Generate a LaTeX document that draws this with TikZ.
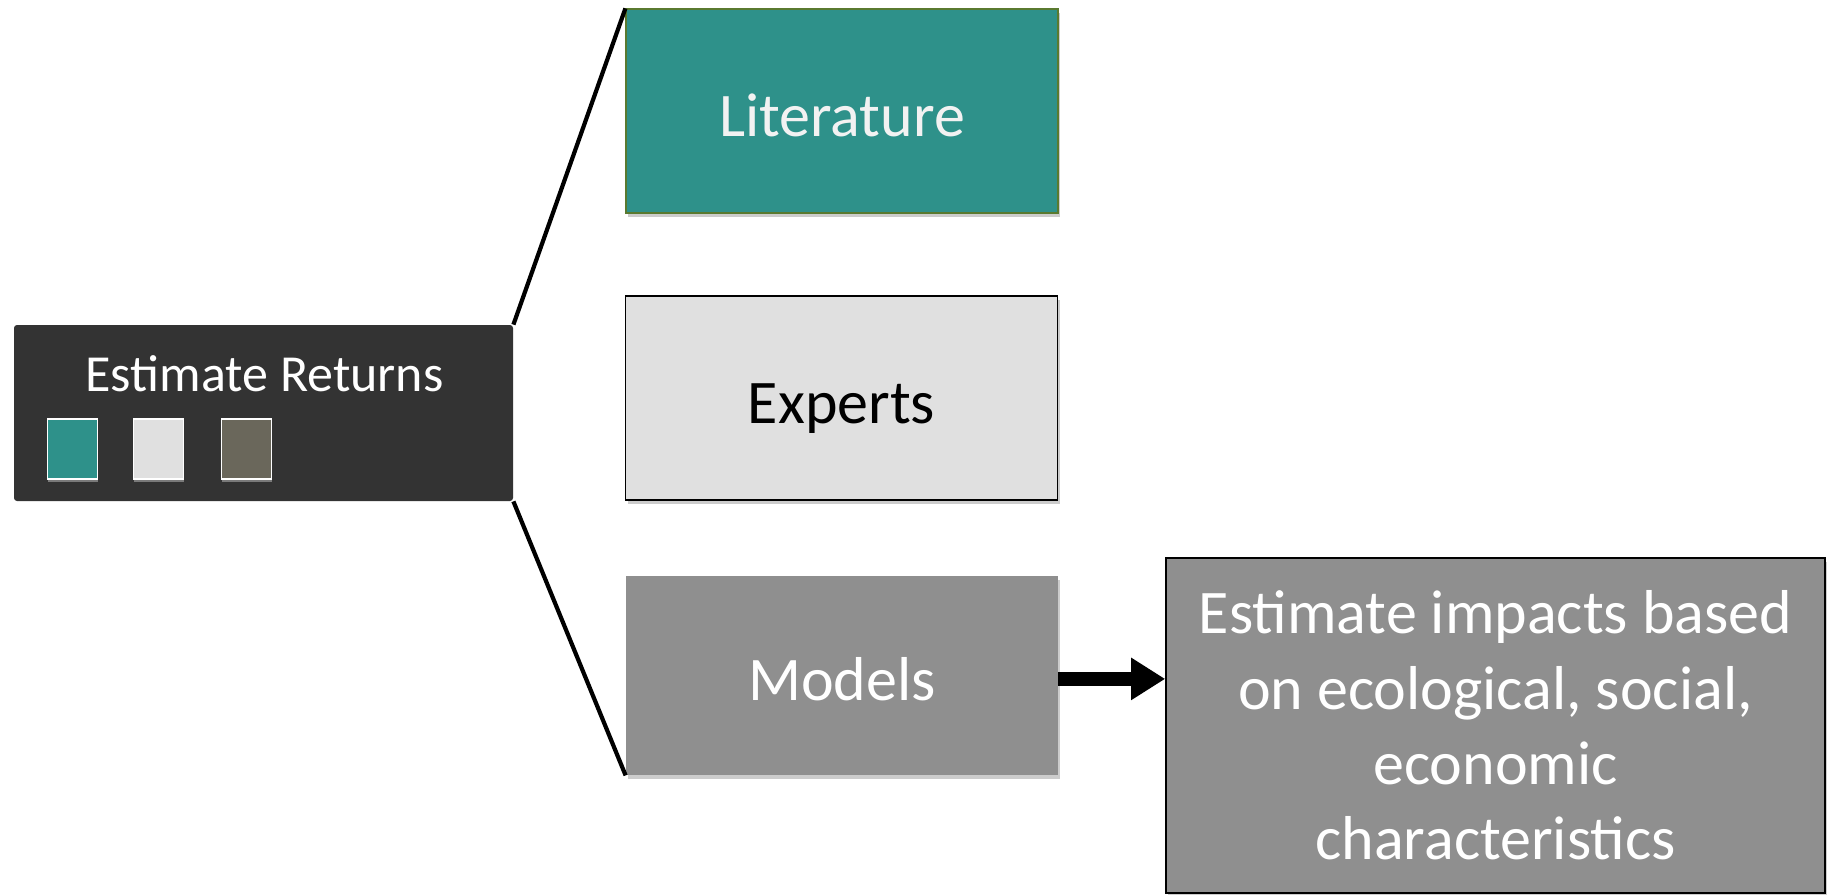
\documentclass[tikz,border=0pt]{standalone}
\usepackage{fontspec}
\setmainfont{Carlito}
\usetikzlibrary{arrows.meta,shadows}
\definecolor{teal1}{HTML}{2E918A}
\definecolor{lgray}{HTML}{E0E0E0}
\definecolor{mgray}{HTML}{8F8F8F}
\definecolor{dgray}{HTML}{333333}
\definecolor{olive1}{HTML}{6A675B}
\definecolor{olivegreen}{HTML}{5A7A30}
\begin{document}
\begin{tikzpicture}[x=0.5pt,y=-0.5pt,
  shade/.style={drop shadow={shadow xshift=1pt,shadow yshift=-2pt,opacity=0.2,fill=black}},
  srcbox/.style={shade,minimum width=216pt,inner sep=0pt,text height=25pt,text depth=0pt,font=\fontsize{31}{37.7}\selectfont},
  swatch/.style={draw=white,line width=0.7pt,minimum width=25pt,minimum height=30pt,inner sep=0pt,
    drop shadow={shadow xshift=0pt,shadow yshift=-1.5pt,opacity=0.35,fill=white}},
  conn/.style={line width=2.1pt,black}]
\useasboundingbox (0,0) rectangle (1835,894);
% root box
\node[fill=dgray,rounded corners=1.5pt,minimum width=249.5pt,minimum height=88pt,inner sep=0pt] (ret) at (263.5,413) {};
\node[text=white,font=\fontsize{26}{31}\selectfont,inner sep=0pt] (rettitle) at (264.5,374) {Estimate Returns};
\node[swatch,fill=teal1] (sq1) at (72.5,449) {};
\node[swatch,fill=lgray] (sq2) at (158.5,449) {};
\node[swatch,fill=olive1] (sq3) at (246.5,449) {};
% source boxes
\node[srcbox,fill=teal1,draw=olivegreen,line width=0.6pt,minimum height=102pt,text={black!5}] (lit) at (842,111) {Literature};
\node[srcbox,fill=lgray,draw=black,line width=0.6pt,minimum height=102pt,text=black] (exp) at (841.5,398) {Experts};
\node[srcbox,fill=mgray,minimum height=99.5pt,text=white] (mod) at (842,675.5) {Models};
% result box
\node[shade,fill=mgray,draw=black,line width=0.8pt,minimum width=329.5pt,minimum height=167.5pt,inner sep=0pt,
  text=white,align=center,font=\fontsize{31}{37.7}\selectfont] (big) at (1495.5,725.5)
  {Estimate impacts based\\on ecological, social,\\economic\\characteristics};
% connectors
\draw[conn] (ret.north east) -- (lit.north west);
\draw[conn] (ret.south east) -- (mod.south west);
\draw[line width=7pt,-{Triangle[length=17pt,width=20pt]}] ([yshift=-1.7pt]mod.east) -- ([yshift=-1.7pt]mod.east -| big.west);
\end{tikzpicture}
\end{document}
